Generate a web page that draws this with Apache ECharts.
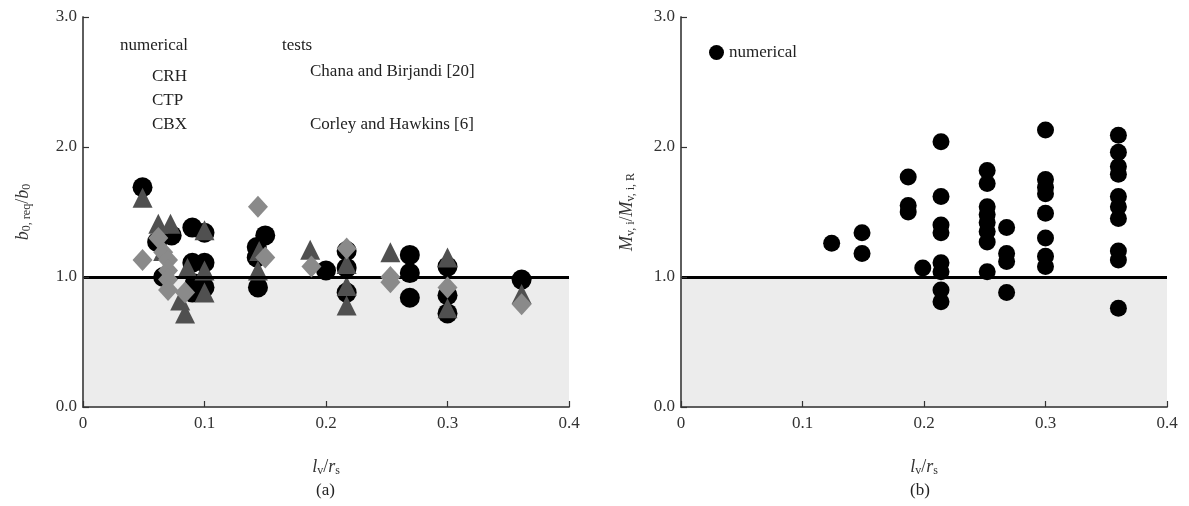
<!DOCTYPE html>
<html>
<head>
<meta charset="utf-8">
<script src="https://cdn.jsdelivr.net/npm/echarts@6/dist/echarts.min.js"></script>
<style>
  html, body { margin: 0; padding: 0; background: #fff; }
  #chart { width: 1189px; height: 506px; }
</style>
</head>
<body>
<div id="chart"></div>
<script>
// x ticks and y ticks shared by both panels
const xTicks = [0, 0.1, 0.2, 0.3, 0.4];
const yTicks = [0, 1, 2, 3];

// (a) numerical results, [lv/rs, b0,req/b0]
const crhPoints = [
  [0.049, 1.69], [0.061, 1.27], [0.073, 1.32], [0.066, 1.00], [0.090, 1.38], [0.100, 1.34],
  [0.090, 1.11], [0.100, 1.11], [0.092, 0.95], [0.100, 0.92], [0.090, 0.88],
  [0.150, 1.32], [0.143, 1.23], [0.143, 1.15], [0.144, 0.92],
  [0.200, 1.05], [0.217, 1.20], [0.217, 1.07], [0.217, 0.88],
  [0.269, 1.17], [0.269, 1.03], [0.269, 0.84],
  [0.300, 1.08], [0.300, 0.86], [0.300, 0.72],
  [0.361, 0.98]
];
const ctpPoints = [
  [0.049, 1.61], [0.062, 1.41], [0.072, 1.41], [0.066, 1.20], [0.100, 1.36], [0.086, 1.07],
  [0.100, 1.05], [0.100, 0.88], [0.084, 0.72], [0.080, 0.82],
  [0.145, 1.20], [0.144, 1.05],
  [0.187, 1.21], [0.217, 1.10], [0.217, 0.93], [0.217, 0.78],
  [0.253, 1.19],
  [0.300, 1.15], [0.300, 0.76],
  [0.361, 0.87]
];
const cbxPoints = [
  [0.049, 1.13], [0.062, 1.30], [0.066, 1.19], [0.070, 1.13], [0.070, 1.05], [0.070, 0.98],
  [0.070, 0.90], [0.084, 0.88],
  [0.144, 1.54], [0.150, 1.15],
  [0.188, 1.08], [0.217, 1.22],
  [0.253, 1.00], [0.253, 0.96],
  [0.300, 0.92],
  [0.361, 0.79]
];

// (b) numerical results, [lv/rs, Mv,i/Mv,i,R]
const momentPoints = [
  [0.124, 1.26], [0.149, 1.34], [0.149, 1.18], [0.187, 1.77], [0.187, 1.55], [0.187, 1.50], [0.199, 1.07],
  [0.214, 2.04], [0.214, 1.62], [0.214, 1.40], [0.214, 1.34], [0.214, 1.11], [0.214, 1.04], [0.214, 0.90], [0.214, 0.81],
  [0.252, 1.82], [0.252, 1.72], [0.252, 1.54], [0.252, 1.48], [0.252, 1.42], [0.252, 1.35], [0.252, 1.27], [0.252, 1.04],
  [0.268, 1.38], [0.268, 1.18], [0.268, 1.12], [0.268, 0.88],
  [0.300, 2.13], [0.300, 1.75], [0.300, 1.69], [0.300, 1.64], [0.300, 1.49], [0.300, 1.30], [0.300, 1.16], [0.300, 1.08],
  [0.360, 2.09], [0.360, 1.96], [0.360, 1.85], [0.360, 1.79], [0.360, 1.62], [0.360, 1.54], [0.360, 1.45], [0.360, 1.20], [0.360, 1.13], [0.360, 0.76]
];

const FONT = '"Liberation Serif", "DejaVu Serif", serif';
const AXIS_COLOR = '#555';

const chart = echarts.init(document.getElementById('chart'));

// italic letters with lowered subscripts
const subRich = {
  i: { fontFamily: FONT, fontStyle: 'italic', fontSize: 18, color: '#333', lineHeight: 20 },
  n: { fontFamily: FONT, fontSize: 18, color: '#333', lineHeight: 20 },
  s: { fontFamily: FONT, fontSize: 12, color: '#333', lineHeight: 10, verticalAlign: 'bottom' }
};

function xAxisMain(gridIndex) {
  return {
    gridIndex, type: 'value', min: 0, max: 0.4, interval: 0.1, z: 10,
    name: '{i|l}{s|v}{n|/}{i|r}{s|s}',
    nameLocation: 'middle', nameGap: 50,
    nameTextStyle: { rich: subRich },
    axisLine: { show: true, lineStyle: { color: AXIS_COLOR, width: 1.5 } },
    axisTick: { show: true, inside: true, length: 6, lineStyle: { color: '#333', width: 1.2 } },
    axisLabel: {
      margin: 8, fontFamily: FONT, fontSize: 17, color: '#333',
      formatter: v => (v === 0 ? '0' : v.toFixed(1))
    },
    splitLine: { show: false }
  };
}
function xAxisTop(gridIndex) {
  return {
    gridIndex, type: 'value', min: 0, max: 0.4, position: 'top', z: 10,
    axisLine: { show: true, lineStyle: { color: AXIS_COLOR, width: 1.5 } },
    axisTick: { show: false }, axisLabel: { show: false }, splitLine: { show: false }
  };
}
function yAxisMain(gridIndex, name, gap) {
  return {
    gridIndex, type: 'value', min: 0, max: 3, interval: 1, z: 10,
    name, nameLocation: 'middle', nameGap: gap,
    nameTextStyle: { rich: subRich },
    axisLine: { show: true, lineStyle: { color: AXIS_COLOR, width: 1.5 } },
    axisTick: { show: true, inside: true, length: 6, lineStyle: { color: '#333', width: 1.2 } },
    axisLabel: { margin: 6, fontFamily: FONT, fontSize: 17, color: '#333', formatter: v => v.toFixed(1) },
    splitLine: { show: false }
  };
}
function yAxisRight(gridIndex) {
  return {
    gridIndex, type: 'value', min: 0, max: 3, position: 'right', z: 10,
    axisLine: { show: true, lineStyle: { color: AXIS_COLOR, width: 1.5 } },
    axisTick: { show: false }, axisLabel: { show: false }, splitLine: { show: false }
  };
}

// shading below 1.0 and the bold reference line
function refMarks() {
  return {
    markArea: {
      silent: true,
      itemStyle: { color: '#ececec' },
      data: [[{ yAxis: 0 }, { yAxis: 1 }]]
    },
    markLine: {
      silent: true, symbol: 'none', label: { show: false },
      lineStyle: { color: '#000', width: 3, type: 'solid' },
      data: [{ yAxis: 1 }]
    }
  };
}

const option = {
  animation: false,
  grid: [
    { left: 83, top: 17, width: 486, height: 390 },
    { left: 681, top: 17, width: 486, height: 390 }
  ],
  xAxis: [xAxisMain(0), xAxisTop(0), xAxisMain(1), xAxisTop(1)],
  yAxis: [
    yAxisMain(0, '{i|b}{s|0, req}{n|/}{i|b}{s|0}', 50),
    yAxisRight(0),
    yAxisMain(1, '{i|M}{s|v, i}{n|/}{i|M}{s|v, i, R}', 44),
    yAxisRight(1)
  ],
  legend: {
    data: [{ name: 'numerical (b)', icon: 'circle' }],
    left: 704, top: 39,
    itemWidth: 15, itemHeight: 15, itemGap: 6,
    formatter: () => 'numerical',
    textStyle: { fontFamily: FONT, fontSize: 17, color: '#222' }
  },
  series: [
    Object.assign({
      name: 'shade (a)', type: 'scatter', xAxisIndex: 0, yAxisIndex: 0, data: [], z: 1
    }, refMarks()),
    {
      name: 'CRH', type: 'scatter', xAxisIndex: 0, yAxisIndex: 0,
      symbol: 'circle', symbolSize: 20, itemStyle: { color: '#000', opacity: 1 },
      data: crhPoints, z: 3
    },
    {
      name: 'CTP', type: 'scatter', xAxisIndex: 0, yAxisIndex: 0,
      symbol: 'triangle', symbolSize: 20, itemStyle: { color: '#505050', opacity: 1 },
      data: ctpPoints, z: 4
    },
    {
      name: 'CBX', type: 'scatter', xAxisIndex: 0, yAxisIndex: 0,
      symbol: 'diamond', symbolSize: [20, 22], itemStyle: { color: '#8a8a8a', opacity: 1 },
      data: cbxPoints, z: 5
    },
    Object.assign({
      name: 'shade (b)', type: 'scatter', xAxisIndex: 2, yAxisIndex: 2, data: [], z: 1
    }, refMarks()),
    {
      name: 'numerical (b)', type: 'scatter', xAxisIndex: 2, yAxisIndex: 2,
      symbol: 'circle', symbolSize: 17, itemStyle: { color: '#000', opacity: 1 },
      data: momentPoints, z: 3
    }
  ],
  graphic: [
    { type: 'text', left: 120, top: 37, style: { text: 'numerical', font: '17px ' + FONT, fill: '#222' } },
    { type: 'text', left: 152, top: 68, style: { text: 'CRH', font: '17px ' + FONT, fill: '#222' } },
    { type: 'text', left: 152, top: 92, style: { text: 'CTP', font: '17px ' + FONT, fill: '#222' } },
    { type: 'text', left: 152, top: 116, style: { text: 'CBX', font: '17px ' + FONT, fill: '#222' } },
    { type: 'text', left: 282, top: 37, style: { text: 'tests', font: '17px ' + FONT, fill: '#222' } },
    { type: 'text', left: 310, top: 63, style: { text: 'Chana and Birjandi [20]', font: '17px ' + FONT, fill: '#222' } },
    { type: 'text', left: 310, top: 116, style: { text: 'Corley and Hawkins [6]', font: '17px ' + FONT, fill: '#222' } },
    { type: 'text', left: 316, top: 482, style: { text: '(a)', font: '17px ' + FONT, fill: '#222' } },
    { type: 'text', left: 910, top: 482, style: { text: '(b)', font: '17px ' + FONT, fill: '#222' } }
  ]
};

chart.setOption(option);
</script>
</body>
</html>
